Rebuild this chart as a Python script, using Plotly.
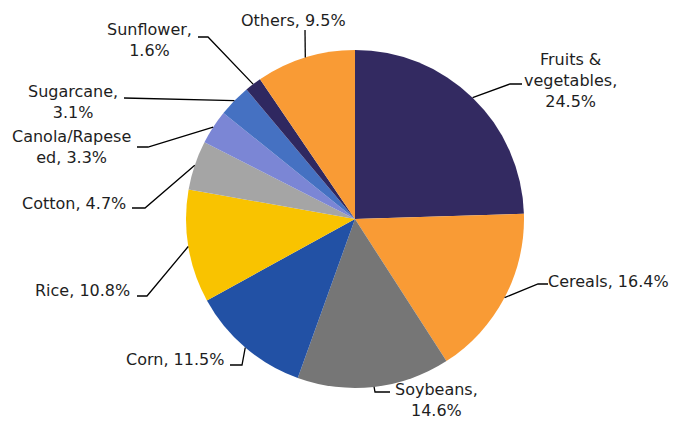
import math
import plotly.graph_objects as go

W, H = 673, 421

# ---- data ----
categories = ["Fruits & vegetables", "Cereals", "Soybeans", "Corn", "Rice",
              "Cotton", "Canola/Rapeseed", "Sugarcane", "Sunflower", "Others"]
shares = [24.5, 16.4, 14.6, 11.5, 10.8, 4.7, 3.3, 3.1, 1.6, 9.5]
label_texts = ["Fruits &<br>vegetables,<br>24.5%", "Cereals, 16.4%", "Soybeans,<br>14.6%",
               "Corn, 11.5%", "Rice, 10.8%", "Cotton, 4.7%", "Canola/Rapese<br>ed, 3.3%",
               "Sugarcane,<br>3.1%", "Sunflower,<br>1.6%", "Others, 9.5%"]

# ---- styles / layout ----
colors = ["#332A61", "#F99B35", "#767676", "#2251A5", "#F9C300",
          "#A5A5A5", "#7B86D5", "#4571C2", "#2F2860", "#F99B35"]
cx, cy, R = 355, 219, 169  # pie centre/radius in pixels
# elbow point, end of horizontal segment, text anchor (x, y, xanchor)
elbows = [(510, 84), (538, 284), (375, 392), (242, 365), (147, 296),
          (145, 208), (148, 147), (124, 98), (208, 37), (305, 30)]
ends = [(522, 84), (548, 284), (390, 392), (230, 365), (137, 296),
        (132, 208), (137, 147), (124, 98), (198, 37), (305, 30)]
text_pos = [(570, 81, "center"), (547, 281, "left"), (436, 400, "center"),
            (225, 359, "right"), (131, 290, "right"), (127, 203, "right"),
            (132, 147, "right"), (119, 102, "right"), (193, 40, "right"),
            (293, 21, "center")]

font_family = "DejaVu Sans, Verdana, sans-serif"
font_size = 16

def px(x):
    return x / W

def py(y):
    return 1 - y / H

fig = go.Figure()
fig.add_trace(go.Pie(
    labels=categories, values=shares, sort=False, direction="clockwise",
    rotation=0, marker=dict(colors=colors, line=dict(width=0)),
    textinfo="none", hoverinfo="label+percent", showlegend=False,
    domain=dict(x=[px(cx - R), px(cx + R)], y=[py(cy + R), py(cy - R)]),
))

total = sum(shares)
cum = 0.0
shapes = []
annotations = []
for i, v in enumerate(shares):
    mid = (cum + v / 2) / total * 2 * math.pi
    cum += v
    ex = cx + R * math.sin(mid)
    ey = cy - R * math.cos(mid)
    bx, by = elbows[i]
    hx, hy = ends[i]
    path = f"M {px(ex)} {py(ey)} L {px(bx)} {py(by)} L {px(hx)} {py(hy)}"
    shapes.append(dict(type="path", xref="paper", yref="paper", path=path,
                       line=dict(color="black", width=1.3)))
    tx, ty, anchor = text_pos[i]
    annotations.append(dict(x=px(tx), y=py(ty), xref="paper", yref="paper",
                            text=label_texts[i], showarrow=False, borderpad=0,
                            xanchor=anchor, yanchor="middle", align="center",
                            font=dict(family=font_family, size=font_size, color="#1E1E1E")))

fig.update_layout(
    width=W, height=H, margin=dict(l=0, r=0, t=0, b=0),
    paper_bgcolor="white", plot_bgcolor="white",
    shapes=shapes, annotations=annotations,
)
fig.write_html("out.html", config={"displayModeBar": False},
               post_script="document.body.style.margin='0';")
